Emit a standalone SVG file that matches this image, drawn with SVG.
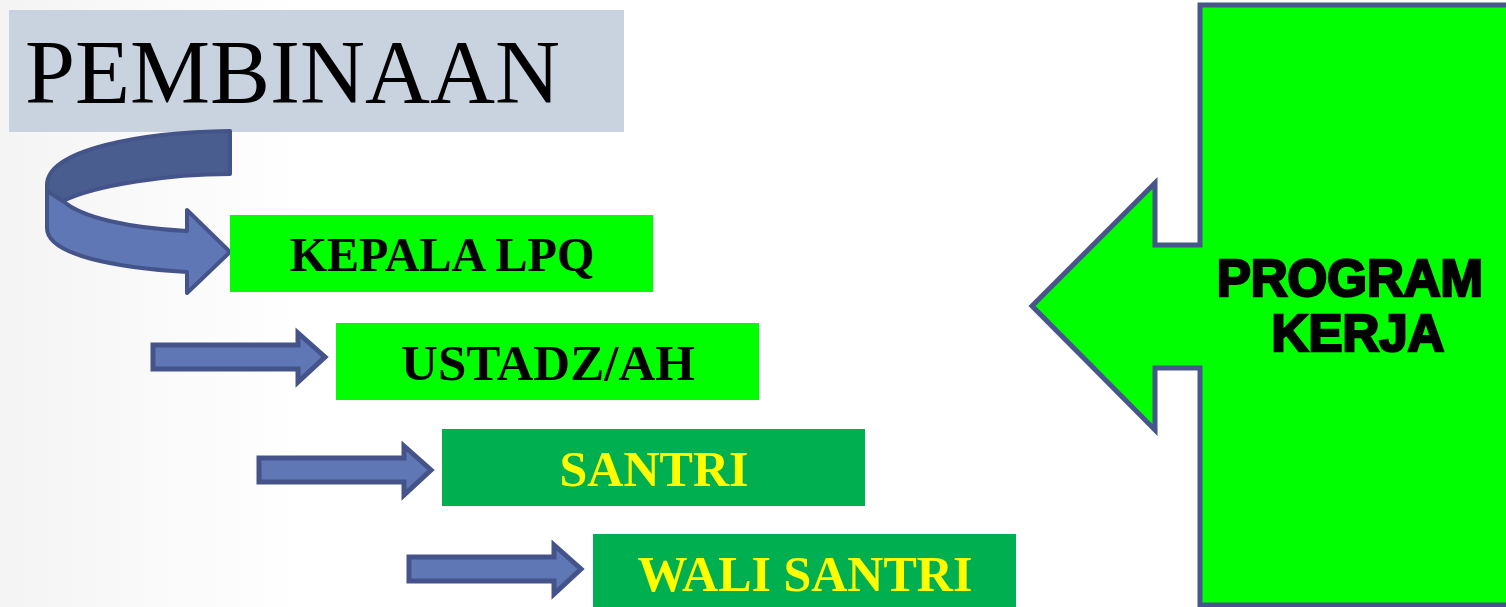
<svg xmlns="http://www.w3.org/2000/svg" width="1506" height="607" viewBox="0 0 1506 607">
<style>
.box-lime{fill:#00ff00}
.box-green{fill:#00b050}
.lbl{font-family:"Liberation Serif","Times New Roman",serif;font-weight:bold;font-size:50px;text-anchor:middle}
.blk{fill:#000}
.yel{fill:#ffff00}
.arr{fill:#5f77b5;stroke:#44548a;stroke-width:5;stroke-linejoin:miter}
</style>
<defs>
<linearGradient id="bg" x1="0" y1="0" x2="1" y2="0">
<stop offset="0" stop-color="#f4f4f4"/>
<stop offset="1" stop-color="#ffffff"/>
</linearGradient>
<path id="straightArrow" d="M0,-12 L145,-12 L145,-24 L172,0 L145,25 L145,12 L0,12 Z"/>
</defs>
<rect width="1506" height="607" fill="#ffffff"/>
<rect width="300" height="607" fill="url(#bg)"/>

<g id="title">
<rect x="9" y="10" width="615" height="122" fill="#c8d3df"/>
<text x="25" y="103" font-family="'Liberation Serif','Times New Roman',serif" font-size="90" fill="#000">PEMBINAAN</text>
</g>

<g id="connectors">
<g id="curvedArrow" stroke="#44548a" stroke-width="4" stroke-linejoin="round">
<path d="M47,190 L47,228 C47,256 120,268 187,272 L187,293 L230,252 L187,210 L187,231 C130,228 82,218 63,201 Z" fill="#5f77b5"/>
<path d="M230,131 C140,132 47,150 47,185 L47,191 L63,201 C95,185 170,174 230,174 Z" fill="#4a5d8f"/>
</g>
<use href="#straightArrow" class="arr" x="153" y="357"/>
<use href="#straightArrow" class="arr" x="259" y="470"/>
<use href="#straightArrow" class="arr" x="409" y="569"/>
</g>

<g id="kepala">
<rect class="box-lime" x="230" y="215" width="423" height="77"/>
<text class="lbl blk" x="442" y="271" style="font-size:48px">KEPALA LPQ</text>
</g>
<g id="ustadz">
<rect class="box-lime" x="336" y="323" width="423" height="77"/>
<text class="lbl blk" x="548" y="380" style="font-size:51px">USTADZ/AH</text>
</g>
<g id="santri">
<rect class="box-green" x="442" y="429" width="423" height="77"/>
<text class="lbl yel" x="654" y="486">SANTRI</text>
</g>
<g id="wali">
<rect class="box-green" x="593" y="534" width="423" height="80"/>
<text class="lbl yel" x="805" y="591">WALI SANTRI</text>
</g>

<g id="program">
<path d="M1200,245 L1200,5 L1512,5 L1512,605 L1200,605 L1200,368 L1155,368 L1155,430 L1032,306 L1155,183 L1155,245 Z" fill="#00ff00" stroke="#46558a" stroke-width="5" stroke-linejoin="miter"/>
<text font-family="'Liberation Sans',Arial,sans-serif" font-weight="bold" font-size="51" fill="#000" stroke="#000" stroke-width="2.5" text-anchor="middle">
<tspan x="1357" y="296">PROGRAM</tspan>
<tspan x="1358" y="351">KERJA</tspan>
</text>
</g>
</svg>
